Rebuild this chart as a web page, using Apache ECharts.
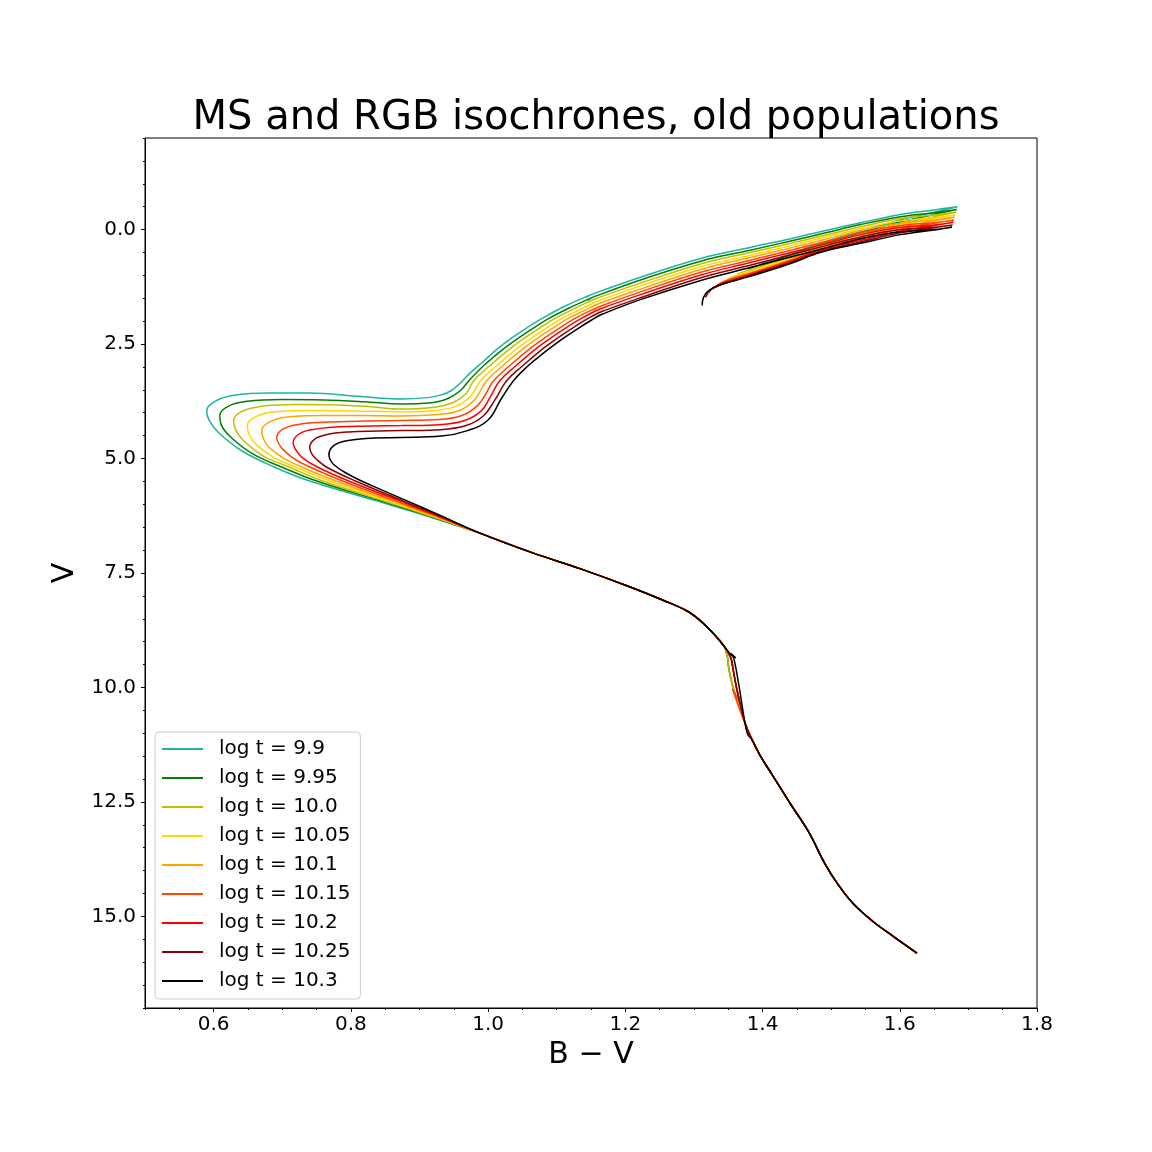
<!DOCTYPE html>
<html>
<head>
<meta charset="utf-8">
<title>MS and RGB isochrones, old populations</title>
<script src="https://cdn.jsdelivr.net/npm/echarts@6/dist/echarts.min.js"></script>
<style>
  html, body { margin: 0; padding: 0; background: #fff; }
  #chart { width: 1152px; height: 1152px; }
</style>
</head>
<body>
<div id="chart"></div>
<script>
// isochrone ages (log t) and their colours
var ages = ['9.9', '9.95', '10.0', '10.05', '10.1', '10.15', '10.2', '10.25', '10.3'];
var colors = ['#20b2aa', '#008000', '#bfbf00', '#ffd700', '#ffa500', '#ff4500', '#ff0000', '#8b0000', '#000000'];

// tick labels
var xTicks = [0.6, 0.8, 1.0, 1.2, 1.4, 1.6, 1.8];
var yTicks = [0, 2.5, 5, 7.5, 10, 12.5, 15];

// lower main sequence, shared by all ages  [B-V, V]
var msLower = [[1.625,15.80],[1.592,15.45],[1.560,15.10],[1.532,14.72],[1.510,14.30],[1.491,13.85],
  [1.467,13.15],[1.441,12.55],[1.413,11.88],[1.397,11.50],[1.385,11.15]];

// the little kink around V = 9.3 .. 10.8
var zigEarly = [[1.375,10.80],[1.366,10.40],[1.357,10.00],[1.351,9.60],[1.349,9.35]];
var zigMid = [[1.375,10.80],[1.368,10.40],[1.362,10.00],[1.357,9.60],[1.354,9.36]];
var zigOrangered = [[1.375,10.80],[1.370,10.62],[1.356,10.03],[1.368,10.36],[1.362,10.00],[1.357,9.60],[1.354,9.36]];
var zigBlack = [[1.378,11.01],[1.373,10.65],[1.366,9.99],[1.358,9.36],[1.354,9.26],[1.361,9.35],[1.355,9.30]];

// upper main sequence, shared
var msUpper = [[1.344,9.10],[1.329,8.83],[1.310,8.55],[1.290,8.33],[1.256,8.10],[1.208,7.81],
  [1.135,7.41],[1.063,7.05],[0.990,6.64]];

// turn-off, subgiant branch, RGB up to the tip and back down, one per age
var top990 = [[0.903,6.22],[0.836,5.92],[0.738,5.48],[0.689,5.19],[0.641,4.83],[0.607,4.43],[0.593,4.15],
  [0.590,3.95],[0.602,3.75],[0.630,3.62],[0.680,3.57],[0.740,3.57],[0.810,3.64],[0.873,3.70],[0.912,3.67],
  [0.932,3.61],[0.946,3.52],[0.959,3.36],[0.974,3.13],[0.993,2.88],[1.014,2.60],[1.033,2.38],[1.056,2.15],
  [1.080,1.93],[1.111,1.68],
  [1.150,1.42],[1.143,1.48],[1.152,1.41],[1.222,1.04],[1.310,0.63],[1.382,0.39],[1.441,0.20],[1.492,0.02],
  [1.543,-0.15],[1.601,-0.33],[1.650,-0.43],[1.684,-0.50],[1.650,-0.38],[1.601,-0.21],[1.543,0.04],
  [1.484,0.30],[1.441,0.53],[1.397,0.75]];
var top995 = [[0.906,6.22],[0.842,5.92],[0.748,5.48],[0.700,5.19],[0.657,4.90],[0.624,4.52],[0.611,4.26],
  [0.609,4.06],[0.621,3.86],[0.649,3.75],[0.699,3.71],[0.760,3.72],[0.820,3.76],[0.873,3.81],[0.918,3.78],
  [0.936,3.72],[0.950,3.62],[0.962,3.48],[0.972,3.30],[0.993,2.98],[1.023,2.60],[1.043,2.38],[1.066,2.15],
  [1.090,1.93],[1.120,1.70],
  [1.152,1.48],[1.145,1.54],[1.154,1.47],[1.222,1.10],[1.310,0.69],[1.382,0.45],[1.441,0.25],
  [1.492,0.07],[1.543,-0.11],[1.601,-0.28],[1.650,-0.37],[1.683,-0.44],[1.650,-0.33],[1.601,-0.17],
  [1.543,0.07],[1.484,0.33],[1.441,0.56],[1.400,0.76],[1.378,0.86]];
var top1000 = [[0.909,6.22],[0.847,5.92],[0.757,5.48],[0.711,5.19],[0.672,4.94],[0.643,4.60],[0.632,4.37],
  [0.629,4.17],[0.641,3.97],[0.669,3.86],[0.719,3.82],[0.780,3.83],[0.830,3.87],[0.873,3.92],[0.922,3.88],
  [0.950,3.77],[0.968,3.58],[0.979,3.30],[1.002,2.98],[1.032,2.60],[1.052,2.38],[1.075,2.15],[1.099,1.93],
  [1.128,1.71],[1.153,1.53],[1.146,1.59],[1.155,1.52],[1.222,1.17],[1.310,0.75],[1.382,0.50],[1.441,0.30],
  [1.492,0.12],[1.543,-0.06],[1.601,-0.24],[1.650,-0.32],[1.682,-0.38],[1.650,-0.28],[1.601,-0.13],
  [1.543,0.11],[1.484,0.35],[1.441,0.59],[1.382,0.88],[1.363,0.97]];
var top1005 = [[0.912,6.22],[0.853,5.92],[0.767,5.48],[0.720,5.19],[0.688,4.98],[0.661,4.68],[0.652,4.48],
  [0.649,4.28],[0.661,4.09],[0.689,3.98],[0.739,3.95],[0.800,3.96],[0.873,3.98],[0.924,3.95],[0.955,3.85],
  [0.975,3.63],[0.989,3.30],[1.012,2.98],[1.042,2.60],[1.062,2.38],[1.085,2.15],[1.109,1.93],[1.135,1.74],
  [1.155,1.59],[1.148,1.65],[1.157,1.58],[1.222,1.23],[1.310,0.81],[1.382,0.56],[1.441,0.35],[1.492,0.16],
  [1.543,-0.02],[1.601,-0.19],[1.650,-0.26],[1.681,-0.32],[1.650,-0.24],[1.601,-0.09],[1.543,0.14],
  [1.484,0.38],[1.441,0.62],[1.382,0.91],[1.360,1.01],[1.349,1.08]];
var top1010 = [[0.915,6.22],[0.858,5.92],[0.776,5.48],[0.729,5.19],[0.703,5.00],[0.681,4.76],[0.673,4.58],
  [0.670,4.39],[0.682,4.20],[0.710,4.09],[0.760,4.06],[0.820,4.06],[0.873,4.07],[0.926,4.04],[0.958,3.95],
  [0.980,3.72],[0.998,3.30],[1.021,2.98],[1.051,2.60],[1.071,2.38],[1.094,2.15],[1.118,1.93],[1.140,1.77],
  [1.157,1.64],[1.150,1.70],[1.159,1.63],[1.222,1.30],[1.310,0.87],[1.382,0.61],[1.441,0.40],[1.492,0.21],
  [1.543,0.02],[1.601,-0.14],[1.650,-0.21],[1.680,-0.27],[1.650,-0.19],[1.601,-0.05],[1.543,0.18],
  [1.484,0.40],[1.441,0.65],[1.382,0.94],[1.355,1.06],[1.341,1.15]];
var top1015 = [[0.918,6.22],[0.864,5.92],[0.786,5.48],[0.741,5.19],[0.717,5.00],[0.701,4.80],[0.694,4.65],
  [0.692,4.54],[0.701,4.36],[0.722,4.26],[0.760,4.21],[0.820,4.18],[0.873,4.17],[0.928,4.15],[0.962,4.06],
  [0.985,3.84],[0.997,3.58],[1.008,3.30],[1.031,2.98],[1.061,2.60],[1.081,2.38],[1.104,2.15],[1.128,1.93],
  [1.159,1.70],[1.152,1.76],[1.161,1.69],[1.222,1.36],[1.310,0.93],[1.382,0.67],[1.441,0.45],[1.492,0.26],
  [1.543,0.07],[1.601,-0.09],[1.650,-0.15],[1.679,-0.21],[1.650,-0.14],[1.601,-0.01],[1.543,0.21],
  [1.484,0.43],[1.441,0.67],[1.382,0.96],[1.350,1.10],[1.336,1.19],[1.332,1.26]];
var top1020 = [[0.921,6.22],[0.870,5.92],[0.795,5.48],[0.752,5.19],[0.731,5.00],[0.721,4.84],[0.716,4.65],
  [0.724,4.47],[0.743,4.37],[0.778,4.31],[0.830,4.29],[0.873,4.28],[0.930,4.26],[0.966,4.17],[0.990,3.96],
  [1.003,3.66],[1.017,3.30],[1.040,2.98],[1.070,2.60],[1.090,2.38],[1.113,2.15],[1.137,1.93],
  [1.160,1.75],[1.153,1.81],[1.162,1.74],[1.222,1.42],[1.310,0.99],[1.382,0.72],[1.441,0.50],[1.492,0.31],
  [1.543,0.11],[1.601,-0.05],[1.650,-0.10],[1.678,-0.16],[1.650,-0.09],[1.601,0.03],[1.543,0.24],
  [1.484,0.45],[1.441,0.69],[1.382,0.98],[1.345,1.15],[1.328,1.27],[1.322,1.37]];
var top1025 = [[0.924,6.22],[0.875,5.92],[0.805,5.48],[0.765,5.19],[0.751,5.03],[0.744,4.92],[0.740,4.76],
  [0.747,4.58],[0.764,4.48],[0.797,4.42],[0.840,4.40],[0.873,4.39],[0.931,4.37],[0.968,4.28],[0.993,4.07],
  [1.010,3.72],[1.027,3.30],[1.050,2.98],[1.080,2.60],[1.100,2.38],[1.123,2.15],[1.147,1.93],[1.162,1.81],
  [1.155,1.87],[1.164,1.80],[1.222,1.49],[1.310,1.05],[1.382,0.78],[1.441,0.55],[1.492,0.35],[1.543,0.16],
  [1.601,0.00],[1.650,-0.05],[1.677,-0.10],[1.650,-0.04],[1.601,0.07],[1.543,0.27],[1.484,0.48],
  [1.441,0.72],[1.382,1.00],[1.342,1.19],[1.324,1.32],[1.317,1.48]];
var top1030 = [[0.927,6.22],[0.881,5.92],[0.844,5.68],[0.814,5.48],[0.791,5.30],[0.780,5.19],[0.772,5.08],
  [0.768,4.93],[0.772,4.76],[0.786,4.64],[0.810,4.58],[0.835,4.55],[0.873,4.54],[0.932,4.51],[0.970,4.39],
  [1.000,4.16],[1.019,3.70],[1.037,3.30],[1.058,2.98],[1.073,2.79],[1.089,2.60],[1.109,2.38],[1.132,2.15],
  [1.156,1.93],[1.164,1.86],[1.157,1.92],[1.166,1.85],[1.222,1.53],[1.310,1.11],[1.382,0.83],[1.441,0.60],
  [1.492,0.40],[1.543,0.20],[1.601,0.05],[1.650,0.00],[1.676,-0.05],[1.650,0.01],[1.601,0.11],[1.543,0.30],
  [1.484,0.50],[1.441,0.74],[1.382,1.02],[1.340,1.20],[1.322,1.33],[1.314,1.48],[1.312,1.66]];

var zigs = [zigEarly, zigEarly, zigEarly, zigMid, zigMid, zigOrangered, zigMid, zigMid, zigBlack];
var tops = [top990, top995, top1000, top1005, top1010, top1015, top1020, top1025, top1030];

var font = 'DejaVu Sans';
var myChart = echarts.init(document.getElementById('chart'));

var series = ages.map(function (a, i) {
    return {
        name: 'log t = ' + a,
        type: 'line',
        xAxisIndex: 0,
        yAxisIndex: 0,
        data: msLower.concat(zigs[i], msUpper, tops[i]),
        symbol: 'none',
        showSymbol: false,
        smooth: 0.4,
        lineStyle: {color: colors[i], width: 1.5},
        itemStyle: {color: colors[i]},
        silent: true
    };
});

myChart.setOption({
    animation: false,
    backgroundColor: '#fff',
    title: {
        text: 'MS and RGB isochrones, old populations',
        left: 591,
        top: 94,
        textAlign: 'center',
        textStyle: {fontFamily: font, fontSize: 40, fontWeight: 'normal', color: '#000'}
    },
    grid: {
        left: 145, right: 115, top: 138, bottom: 144,
        show: true, borderColor: '#000', borderWidth: 1, backgroundColor: 'transparent'
    },
    legend: {
        orient: 'vertical',
        left: 155,
        top: 732,
        padding: [7, 10, 8, 7],
        itemGap: 9,
        itemWidth: 41,
        itemHeight: 2,
        icon: 'rect',
        backgroundColor: 'rgba(255,255,255,0.8)',
        borderColor: '#cccccc',
        borderWidth: 1,
        borderRadius: 4,
        textStyle: {fontFamily: font, fontSize: 20, color: '#000', lineHeight: 20, padding: [0, 0, 0, 11]},
        data: ages.map(function (a) { return 'log t = ' + a; })
    },
    xAxis: [
        {
            type: 'value',
            min: 0.5,
            max: 1.8,
            interval: 0.1,
            position: 'bottom',
            name: 'B \u2212 V',
            nameLocation: 'middle',
            nameGap: 26,
            nameTextStyle: {fontFamily: font, fontSize: 30, color: '#000'},
            axisLine: {show: true, onZero: false, lineStyle: {color: '#000', width: 1}},
            axisTick: {show: true, inside: false, length: 4, customValues: xTicks, lineStyle: {color: '#000'}},
            axisLabel: {
                customValues: xTicks, margin: 7,
                fontFamily: font, fontSize: 20, color: '#000',
                formatter: function (v) { return v.toFixed(1); }
            },
            splitLine: {show: false}
        },
        {
            type: 'value',
            min: 0.5,
            max: 1.8,
            interval: 0.05,
            position: 'bottom',
            axisLine: {show: false, onZero: false},
            axisTick: {show: true, inside: false, length: 2, lineStyle: {color: '#000'}},
            axisLabel: {show: false},
            splitLine: {show: false}
        }
    ],
    yAxis: [
        {
            type: 'value',
            inverse: true,
            min: -2,
            max: 17,
            interval: 0.5,
            position: 'left',
            name: 'V',
            nameLocation: 'middle',
            nameGap: 60,
            nameRotate: 90,
            nameTextStyle: {fontFamily: font, fontSize: 30, color: '#000'},
            axisLine: {show: true, onZero: false, lineStyle: {color: '#000', width: 1}},
            axisTick: {show: true, inside: false, length: 4, customValues: yTicks, lineStyle: {color: '#000'}},
            axisLabel: {
                customValues: yTicks, margin: 9,
                fontFamily: font, fontSize: 20, color: '#000',
                formatter: function (v) { return v.toFixed(1); }
            },
            splitLine: {show: false}
        },
        {
            type: 'value',
            inverse: true,
            min: -2,
            max: 17,
            interval: 0.5,
            position: 'left',
            axisLine: {show: false, onZero: false},
            axisTick: {show: true, inside: false, length: 2, lineStyle: {color: '#000'}},
            axisLabel: {show: false},
            splitLine: {show: false}
        }
    ],
    series: series
});
</script>
</body>
</html>
